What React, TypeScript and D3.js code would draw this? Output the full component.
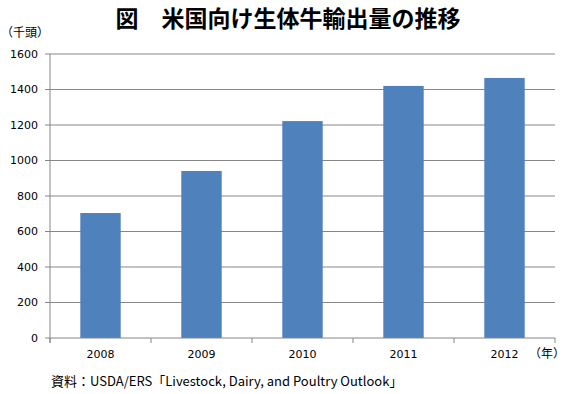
import React from "react";
import * as d3 from "d3";

const years = ["2008", "2009", "2010", "2011", "2012"];
const exports = [704, 941, 1222, 1420, 1465];
const yTicks = [0, 200, 400, 600, 800, 1000, 1200, 1400, 1600];

const width = 566;
const height = 394;
const margin = { top: 54, right: 11, bottom: 56, left: 50 };

const App = () => {
  const x = d3
    .scaleBand()
    .domain(years)
    .range([margin.left, width - margin.right])
    .paddingInner(0.6)
    .paddingOuter(0.3);

  const y = d3
    .scaleLinear()
    .domain([0, 1600])
    .range([height - margin.bottom, margin.top]);

  const x0 = margin.left;
  const x1 = width - margin.right;
  const boundaries = d3.range(years.length + 1).map((i) => x0 + ((x1 - x0) * i) / years.length);

  const cjk = "'Noto Sans CJK JP', sans-serif";
  const tickFont = "'DejaVu Sans', sans-serif";

  return (
    <svg width={width} height={height} style={{ position: "absolute", left: 0, top: 0, background: "#fff" }}>
      <text x={288} y={27} textAnchor="middle" fontFamily={cjk} fontWeight="bold" fontSize={23} fill="#000">
        図　米国向け生体牛輸出量の推移
      </text>
      <text x={1} y={37} fontFamily={cjk} fontSize={12} fill="#000">
        （千頭）
      </text>

      {yTicks.map((t) => (
        <g key={t}>
          {t > 0 && <line x1={x0} x2={x1} y1={y(t)} y2={y(t)} stroke="#868686" strokeWidth={1} />}
          <line x1={x0 - 5} x2={x0} y1={y(t)} y2={y(t)} stroke="#868686" />
          <text x={x0 - 12} y={y(t)} dy="0.35em" textAnchor="end" fontFamily={tickFont} fontSize={11} fill="#000">
            {t}
          </text>
        </g>
      ))}

      {years.map((yr, i) => (
        <rect
          key={yr}
          x={x(yr)}
          y={y(exports[i])}
          width={x.bandwidth()}
          height={y(0) - y(exports[i])}
          fill="#4F81BD"
        />
      ))}

      <line x1={x0} x2={x0} y1={y(1600)} y2={y(0) + 5} stroke="#868686" />
      <line x1={x0} x2={x1} y1={y(0)} y2={y(0)} stroke="#868686" />
      {boundaries.map((bx, i) => (
        <line key={i} x1={bx} x2={bx} y1={y(0)} y2={y(0) + 5} stroke="#868686" />
      ))}

      {years.map((yr) => (
        <text
          key={yr}
          x={(x(yr) ?? 0) + x.bandwidth() / 2}
          y={358}
          textAnchor="middle"
          fontFamily={tickFont}
          fontSize={11}
          fill="#000"
        >
          {yr}
        </text>
      ))}
      <text x={529} y={358} fontFamily={cjk} fontSize={12} fill="#000">
        （年）
      </text>

      <text x={51} y={386} fontFamily={cjk} fontSize={13} fill="#000">
        資料：USDA/ERS「Livestock, Dairy, and Poultry Outlook」
      </text>
    </svg>
  );
};

export default App;
